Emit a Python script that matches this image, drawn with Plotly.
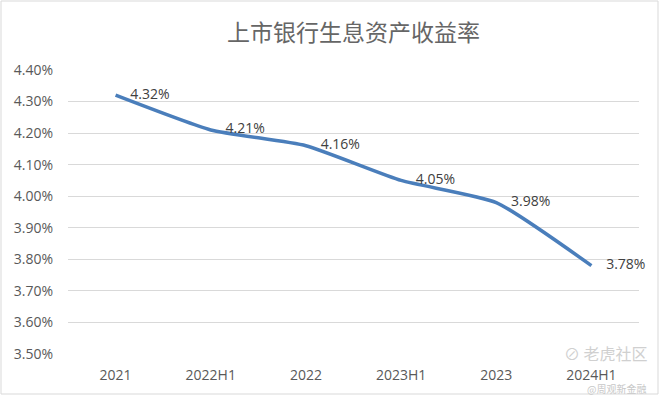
import plotly.graph_objects as go

title = "上市银行生息资产收益率"
categories = ["2021", "2022H1", "2022", "2023H1", "2023", "2024H1"]
yield_rates = [0.0432, 0.0421, 0.0416, 0.0405, 0.0398, 0.0378]
y_ticks = [0.035, 0.036, 0.037, 0.038, 0.039, 0.040, 0.041, 0.042, 0.043, 0.044]

W, H = 660, 397
L, R, T, B = 68, 21, 70, 43
pw, ph = W - L - R, H - T - B

fig = go.Figure()
fig.add_trace(go.Scatter(
    x=categories, y=yield_rates,
    mode="lines+markers+text",
    line=dict(color="#4a7ebb", width=3.5, shape="spline", smoothing=0.5),
    marker=dict(size=22, color="rgba(0,0,0,0)"),
    text=[f"{v*100:.2f}%" for v in yield_rates],
    textposition="middle right",
    textfont=dict(family="Open Sans, Liberation Sans, sans-serif", size=14, color="#404040"),
    cliponaxis=False,
    hoverinfo="skip",
    showlegend=False,
))

fig.update_layout(
    width=W, height=H,
    margin=dict(l=L, r=R, t=T, b=B, autoexpand=False),
    paper_bgcolor="white", plot_bgcolor="white",
    title=dict(text=title, x=0.5, xref="paper", xanchor="center", y=1 - 33 / H, yanchor="middle",
               font=dict(family="Noto Sans CJK SC", size=23, color="#666666")),
    xaxis=dict(type="category", range=[-0.5, 5.5], showgrid=False, zeroline=False,
               showline=False, ticks="", ticklabelstandoff=11, automargin=False,
               tickfont=dict(family="Open Sans, Liberation Sans, sans-serif", size=14, color="#595959")),
    yaxis=dict(range=[0.035, 0.044], tickvals=y_ticks, tickformat=".2%",
               showgrid=True, gridcolor="#d9d9d9", gridwidth=1, zeroline=False,
               showline=False, ticks="", ticklabelstandoff=14, automargin=False,
               tickfont=dict(family="Open Sans, Liberation Sans, sans-serif", size=14, color="#595959")),
    shapes=[dict(type="rect", xref="paper", yref="paper",
                 x0=(1 - L) / pw, x1=(658 - L) / pw,
                 y0=(H - B - 394) / ph, y1=(H - B - 1) / ph,
                 line=dict(color="#d9d9d9", width=1), fillcolor="rgba(0,0,0,0)", layer="below")],
    annotations=[
        dict(text="⊘ 老虎社区", xref="paper", yref="paper",
             x=(650 - L) / pw, y=(H - B - 353) / ph, xanchor="right", yanchor="middle",
             showarrow=False, font=dict(family="Noto Sans CJK SC", size=16, color="#d0d0d0")),
        dict(text="@周观新金融", xref="paper", yref="paper",
             x=(648 - L) / pw, y=(H - B - 388) / ph, xanchor="right", yanchor="middle",
             showarrow=False, font=dict(family="Noto Sans CJK SC", size=10, color="#c8c8c8")),
    ],
)

fig.write_html("out.html", config={"displayModeBar": False},
               post_script="document.body.style.margin='0';")
